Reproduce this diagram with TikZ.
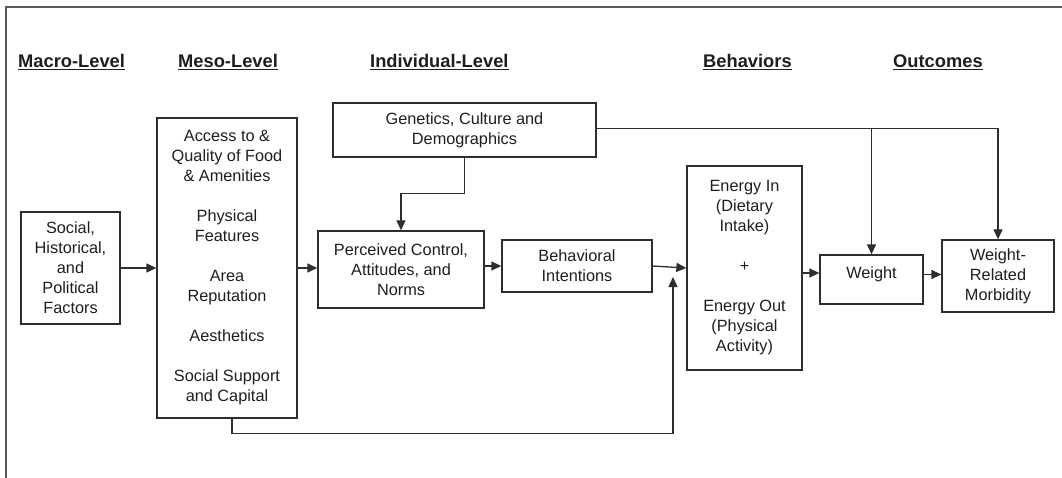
\documentclass[tikz,border=0pt]{standalone}
\usepackage{fontspec}
\setmainfont{Liberation Sans}
\usetikzlibrary{arrows.meta}
\definecolor{ink}{HTML}{1E1E1E}
\definecolor{linec}{HTML}{2E2E2E}
\tikzset{
  box/.style={draw=linec, line width=1.3pt, inner sep=0pt, align=center, text=ink,
    font=\fontsize{16.3}{20}\selectfont},
  arr/.style={draw=linec, line width=1.3pt, -{Triangle[length=10pt,width=9pt]}},
  head/.style={anchor=base west, inner sep=0pt, text=ink, font=\fontsize{18.3}{22}\selectfont\bfseries}
}
\begin{document}
\begin{tikzpicture}[x=1pt,y=-1pt]
\useasboundingbox (0,0) rectangle (1062,478);
% frame
\draw[draw=black!65, line width=1.6pt] (6,478) -- (6,7) -- (1062,7);
% headings
\node[head] (h1) at (18,68) {\underline{Macro-Level}};
\node[head] (h2) at (178,68) {\underline{Meso-Level}};
\node[head] (h3) at (370,68) {\underline{Individual-Level}};
\node[head] (h4) at (703,68) {\underline{Behaviors}};
\node[head] (h5) at (893,68) {\underline{Outcomes}};
% boxes
\node[box, minimum width=99pt, minimum height=112pt] (soc) at (70.5,268) {Social,\\Historical,\\and\\Political\\Factors};
\node[box, minimum width=140pt, minimum height=300pt] (meso) at (227,268)
  {Access to \&\\Quality of Food\\\& Amenities\\[20pt]Physical\\Features\\[20pt]Area\\Reputation\\[20pt]Aesthetics\\[20pt]Social Support\\and Capital};
\node[box, minimum width=263pt, minimum height=54pt] (gen) at (464.5,130) {Genetics, Culture and\\Demographics};
\node[box, minimum width=166pt, minimum height=77pt] (perc) at (401,269.5) {Perceived Control,\\Attitudes, and\\Norms};
\node[box, minimum width=150pt, minimum height=52pt] (bi) at (577,266) {Behavioral\\Intentions};
\node[box, minimum width=115pt, minimum height=204pt] (energy) at (744.5,268)
  {Energy In\\(Dietary\\Intake)\\[20pt]+\\[20pt]Energy Out\\(Physical\\Activity)};
\node[box, minimum width=103pt, minimum height=49pt] (weight) at (871.5,279.5) {\raisebox{1pt}[0pt][0pt]{Weight}};
\node[box, minimum width=112pt, minimum height=72pt] (morb) at (998,276) {Weight-\\Related\\Morbidity};
% helper coordinates
\coordinate (ge) at ([yshift=1.5pt]gen.east);
\coordinate (wl) at ([yshift=6.5pt]weight.west);
\coordinate (we) at ([yshift=5pt]weight.east);
\coordinate (ms) at ([xshift=5pt]meso.south);
\coordinate (fb) at (673,277);
% connectors
\draw[arr] (soc.east) -- (meso.west);
\draw[arr] (meso.east) -- (perc.west |- meso.east);
\draw[arr] (gen.south) -- ++(0,36) -| (perc.north);
\draw[arr] (perc.east |- bi.west) -- (bi.west);
\draw[arr] (bi.east) -- (energy.west);
\draw[arr] (ms) -- ++(0,15) -| (fb);
\draw[arr] (ge) -| (morb.north);
\draw[arr] (weight.north |- ge) -- (weight.north);
\draw[arr] (energy.east |- wl) -- (wl);
\draw[arr] (we) -- (morb.west |- we);
\end{tikzpicture}
\end{document}
